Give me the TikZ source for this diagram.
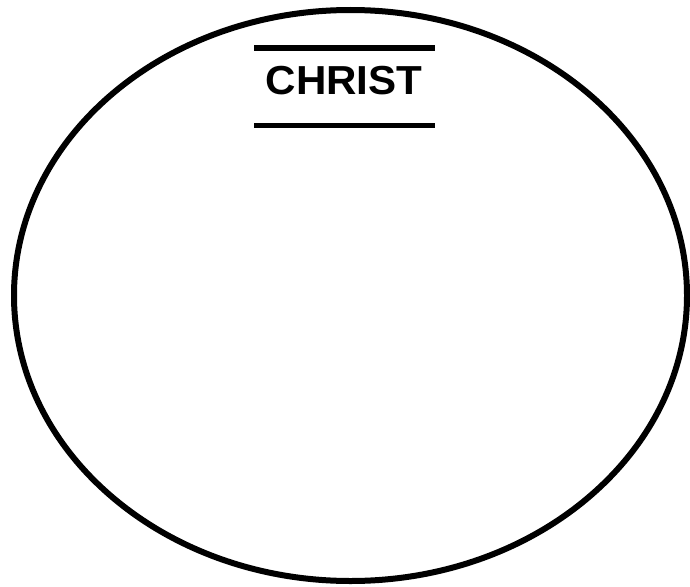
\documentclass[tikz,border=0pt]{standalone}
\usepackage{fontspec}
\setmainfont{Liberation Sans}
\begin{document}
\begin{tikzpicture}[x=1pt,y=-1pt,
  outline/.style={draw=black,line width=6pt},
  rule/.style={draw=black,line width=5.5pt},
  title/.style={font=\bfseries\fontsize{40.5}{40.5}\selectfont,inner sep=0pt,anchor=base}]
\useasboundingbox (0,0) rectangle (690,586);
\coordinate (c) at (350.5,295.5);
\draw[outline] (c) ellipse [x radius=336.5, y radius=285.5];
\coordinate (t1) at (254,48);
\coordinate (t2) at (435,48);
\coordinate (b1) at (254,125.5);
\coordinate (b2) at (435,125.5);
\draw[rule] (t1) -- (t2);
\draw[rule] (b1) -- (b2);
\node[title] (christ) at (344,94.3) {\scalebox{1.04}[1]{CHRIST}};
\end{tikzpicture}
\end{document}
